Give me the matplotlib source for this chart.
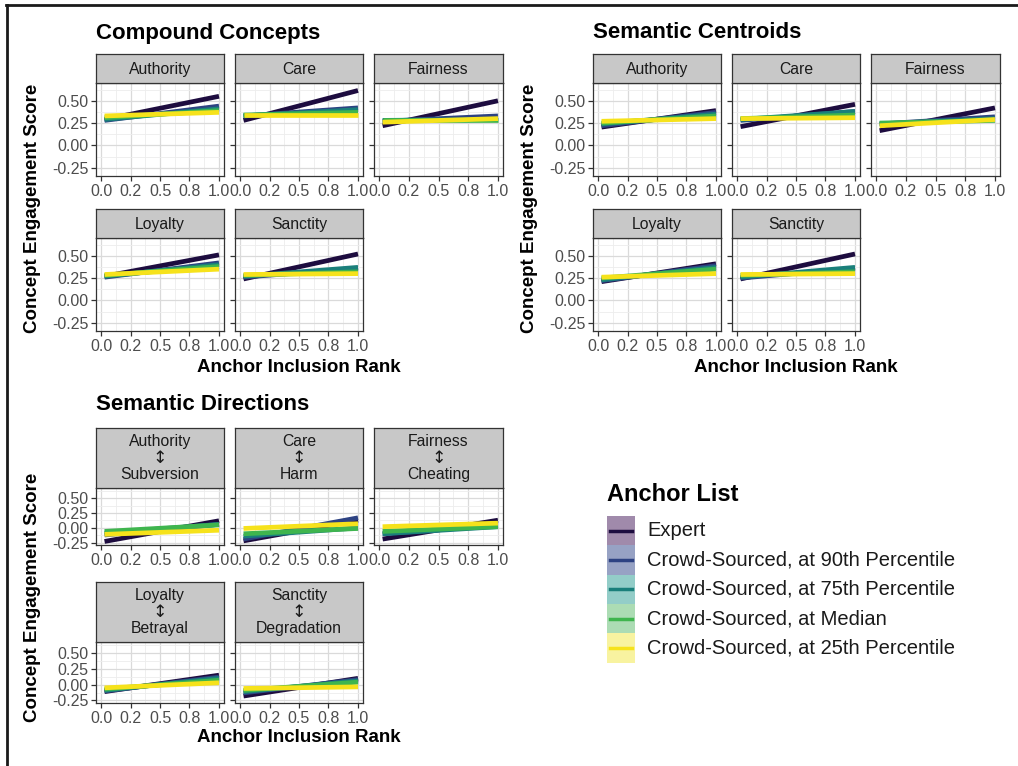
import matplotlib
matplotlib.use("Agg")
import matplotlib.pyplot as plt
from matplotlib.patches import Rectangle
from matplotlib.lines import Line2D

plt.rcParams['font.family'] = ['Liberation Sans', 'DejaVu Sans']

W, H = 1018, 766

series = ['Expert', 'Crowd-Sourced, at 90th Percentile', 'Crowd-Sourced, at 75th Percentile',
          'Crowd-Sourced, at Median', 'Crowd-Sourced, at 25th Percentile']
line_colors = ['#1d0c3f', '#2d4282', '#1a7f7b', '#3fb54e', '#f6e21b']
key_fills = ['#a08aab', '#97a2c4', '#93cdc8', '#acdcb4', '#f8f3a0']

foundations = ['Authority', 'Care', 'Fairness', 'Loyalty', 'Sanctity']
opposites = ['Subversion', 'Harm', 'Cheating', 'Betrayal', 'Degradation']

x_start, x_end = 0.03, 1.0

# (start, end) per series, order: Expert, 90th, 75th, Median, 25th
compound = {
    'Authority': [(0.29, 0.55), (0.28, 0.44), (0.29, 0.41), (0.31, 0.39), (0.33, 0.37)],
    'Care':      [(0.28, 0.615), (0.33, 0.42), (0.33, 0.40), (0.34, 0.37), (0.34, 0.34)],
    'Fairness':  [(0.22, 0.50), (0.27, 0.33), (0.28, 0.29), (0.29, 0.29), (0.26, 0.30)],
    'Loyalty':   [(0.27, 0.51), (0.26, 0.42), (0.27, 0.40), (0.28, 0.38), (0.29, 0.35)],
    'Sanctity':  [(0.24, 0.52), (0.26, 0.36), (0.27, 0.37), (0.28, 0.32), (0.29, 0.30)],
}
centroids = {
    'Authority': [(0.205, 0.39), (0.22, 0.37), (0.24, 0.35), (0.25, 0.33), (0.27, 0.30)],
    'Care':      [(0.21, 0.46), (0.28, 0.38), (0.29, 0.38), (0.30, 0.34), (0.30, 0.31)],
    'Fairness':  [(0.165, 0.42), (0.24, 0.32), (0.24, 0.30), (0.25, 0.28), (0.22, 0.29)],
    'Loyalty':   [(0.21, 0.41), (0.22, 0.39), (0.23, 0.37), (0.25, 0.35), (0.26, 0.30)],
    'Sanctity':  [(0.24, 0.52), (0.25, 0.36), (0.26, 0.37), (0.28, 0.32), (0.29, 0.30)],
}
sem_dirs = {
    'Authority': [(-0.23, 0.12), (-0.12, 0.06), (-0.09, 0.06), (-0.06, 0.05), (-0.11, -0.04)],
    'Care':      [(-0.22, 0.13), (-0.19, 0.17), (-0.14, 0.0), (-0.10, -0.01), (-0.01, 0.07)],
    'Fairness':  [(-0.19, 0.13), (-0.10, 0.04), (-0.10, 0.02), (-0.06, 0.02), (0.02, 0.08)],
    'Loyalty':   [(-0.11, 0.15), (-0.10, 0.12), (-0.09, 0.10), (-0.07, 0.07), (-0.05, 0.03)],
    'Sanctity':  [(-0.18, 0.10), (-0.13, 0.08), (-0.11, 0.06), (-0.09, 0.04), (-0.06, -0.035)],
}

x_ticks = [0, 0.25, 0.5, 0.75, 1.0]
x_labels = ['0.0', '0.2', '0.5', '0.8', '1.0']
y_ticks = [-0.25, 0, 0.25, 0.5]
y_labels = ['-0.25', '0.00', '0.25', '0.50']

fig = plt.figure(figsize=(W / 100, H / 100), dpi=100)


def box(x0, x1, y0, y1):
    return [x0 / W, 1 - y1 / H, (x1 - x0) / W, (y1 - y0) / H]


def panel(x0, x1, sy0, sy1, py1, label, data, ylim, show_y=True, sub=None):
    ax = fig.add_axes(box(x0, x1, sy1, py1))
    for i, (a, b) in enumerate(data):
        ax.plot([x_start, x_end], [a, b], color=line_colors[i], lw=3.4, solid_capstyle='butt')
    ax.set_xlim(-0.0424, 1.0424)
    ax.set_ylim(*ylim)
    ax.set_xticks(x_ticks)
    ax.set_xticklabels(x_labels)
    ax.set_yticks(y_ticks)
    ax.set_yticklabels(y_labels if show_y else [])
    ax.set_xticks([0.125, 0.375, 0.625, 0.875], minor=True)
    ax.set_yticks([-0.125, 0.125, 0.375, 0.625], minor=True)
    ax.grid(which='major', color='#dadada', lw=0.9)
    ax.grid(which='minor', color='#ededed', lw=0.6)
    ax.set_axisbelow(True)
    ax.tick_params(which='major', length=3.5, width=0.9, color='#333333',
                   labelsize=11.5, labelcolor='#4d4d4d', pad=2)
    ax.tick_params(which='minor', length=0)
    for s in ax.spines.values():
        s.set_color('#333333')
        s.set_linewidth(0.9)
    sax = fig.add_axes(box(x0, x1, sy0, sy1))
    sax.set_xticks([])
    sax.set_yticks([])
    sax.set_facecolor('#c8c8c8')
    for s in sax.spines.values():
        s.set_color('#333333')
        s.set_linewidth(0.9)
    if sub is None:
        sax.text(0.5, 0.45, label, ha='center', va='center', fontsize=11.3, color='#1a1a1a',
                 transform=sax.transAxes)
    else:
        hgt = sy1 - sy0
        sax.text(0.5, 0.5 + 16.5 / hgt, label, ha='center', va='center', fontsize=11.3,
                 color='#1a1a1a', transform=sax.transAxes)
        sax.text(0.5, 0.5, '\u2195', ha='center', va='center', fontsize=12.5, color='#1a1a1a',
                 family='DejaVu Sans', transform=sax.transAxes)
        sax.text(0.5, 0.5 - 16.5 / hgt, sub, ha='center', va='center', fontsize=11.3,
                 color='#1a1a1a', transform=sax.transAxes)
    return ax


cols_left = [(96, 224), (235, 363), (374, 503)]
cols_right = [(593, 721), (732, 860), (871, 1000)]
rows_std = [(54, 83, 176), (209, 238, 331)]
rows_dir = [(428, 488, 545), (582, 642, 703)]


def group(cols, rows, subs, data, ylim, title, title_xy, ylab_xy, xlab_xy):
    for k, f in enumerate(foundations):
        r, c = divmod(k, 3)
        x0, x1 = cols[c]
        sy0, sy1, py1 = rows[r]
        panel(x0, x1, sy0, sy1, py1, f, data[f], ylim, show_y=(c == 0),
              sub=None if subs is None else subs[k])
    fig.text(title_xy[0] / W, 1 - title_xy[1] / H, title, fontsize=16, fontweight='bold',
             ha='left', va='center')
    fig.text(ylab_xy[0] / W, 1 - ylab_xy[1] / H, 'Concept Engagement Score', fontsize=13.5,
             fontweight='bold', rotation=90, ha='center', va='center')
    fig.text(xlab_xy[0] / W, 1 - xlab_xy[1] / H, 'Anchor Inclusion Rank', fontsize=13.5,
             fontweight='bold', ha='center', va='center')


group(cols_left, rows_std, None, compound, (-0.343, 0.699), 'Compound Concepts',
      (96, 33), (33, 208), (299, 367))
group(cols_right, rows_std, None, centroids, (-0.343, 0.699), 'Semantic Centroids',
      (593, 33), (530, 208), (796, 367))
group(cols_left, rows_dir, opposites, sem_dirs, (-0.29, 0.675), 'Semantic Directions',
      (96, 405), (33, 597), (299, 738))

# legend
fig.text(607 / W, 1 - 495 / H, 'Anchor List', fontsize=17, fontweight='bold', ha='left', va='center')
key_h = 29.3
for i, name in enumerate(series):
    yt = 516 + i * key_h
    fig.add_artist(Rectangle((607 / W, 1 - (yt + key_h) / H), 28 / W, key_h / H,
                             transform=fig.transFigure, facecolor=key_fills[i], edgecolor='none'))
    yc = 1 - (yt + key_h / 2) / H
    fig.add_artist(Line2D([610 / W, 632 / W], [yc, yc], transform=fig.transFigure,
                          color=line_colors[i], lw=2.5))
    fig.text(647 / W, yc, name, fontsize=14.5, ha='left', va='center', color='#1a1a1a')

# frame edges
fig.add_artist(Line2D([6 / W, 1], [1 - 5 / H, 1 - 5 / H], transform=fig.transFigure, color='#1a1a1a', lw=2))
fig.add_artist(Line2D([7 / W, 7 / W], [0, 1 - 5 / H], transform=fig.transFigure, color='#1a1a1a', lw=2))

fig.savefig('out.png', dpi=100)
